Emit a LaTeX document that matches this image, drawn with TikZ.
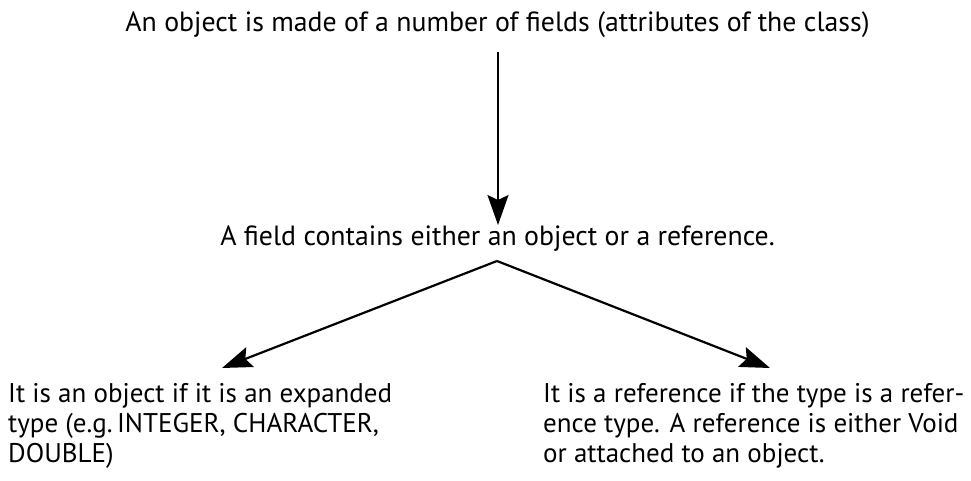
\documentclass[tikz,border=0pt]{standalone}
\usepackage{fontspec}
\setmainfont{PT Sans}
\usetikzlibrary{arrows.meta}
\begin{document}
\begin{tikzpicture}[x=1pt,y=-1pt,
  txt/.style={font=\fontsize{27.8}{30}\selectfont, inner sep=0pt},
  para/.style={inner sep=0pt, font=\fontsize{27}{30}\selectfont, align=left, anchor=base west},
  link/.style={line width=2.2pt, -{Stealth[length=30pt,width=21pt,inset=5pt]}}]
\useasboundingbox (0,0) rectangle (971,481);

% statements (paragraph nodes are placed by the baseline of their last line)
\node[txt, anchor=base] (obj) at (497.5,32)
  {An object is made of a number of fields (attributes of the class)};
\node[txt, anchor=base] (field) at (497.5,245)
  {A field contains either an object or a reference.};
\node[para] (expd) at (8,462)
  {It is an object if it is an expanded\\type (e.g.\,INTEGER, CHARACTER,\\DOUBLE)};
\node[para] (refd) at (543,462)
  {It is a reference if the type is a refer-\\ence type. A reference is either Void\\or attached to an object.};

% connector ends
\coordinate (top) at (498,52);
\coordinate (apex) at (497,261);
\coordinate (ltip) at (222,368);
\coordinate (rtip) at (770,368);

% arrows
\draw[link] (top) -- (top |- field.north);
\draw[link] (apex) -- (ltip);
\draw[link] (apex) -- (rtip);
\end{tikzpicture}
\end{document}
